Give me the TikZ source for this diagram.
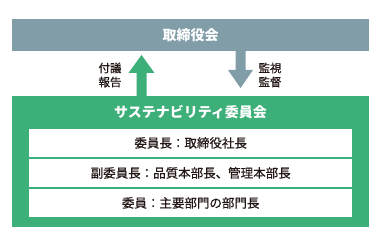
\documentclass[tikz,border=0pt]{standalone}
\usepackage{fontspec}
\setmainfont{Noto Sans CJK JP}
\newfontfamily\medfont{Noto Sans CJK JP}[FakeBold=0.6]
\definecolor{boardgray}{HTML}{819DA8}
\definecolor{comgreen}{HTML}{3DAF78}
\definecolor{txtdark}{HTML}{231815}
\tikzset{
  bandbox/.style={minimum width=357pt, inner sep=0pt, anchor=north west},
  rowbox/.style={fill=white, minimum width=323pt, minimum height=27.5pt, inner sep=0pt, anchor=north west, font=\medfont\fontsize{12.5}{14}\selectfont, text=txtdark},
  sidelabel/.style={font=\medfont\fontsize{11.5}{14}\selectfont, align=center, text=txtdark, inner sep=0pt}
}
\begin{document}
\begin{tikzpicture}[x=1pt,y=-1pt]
\useasboundingbox (0,0) rectangle (392,237);
\fill[white] (0,0) rectangle (392,237);
% board
\node[bandbox, fill=boardgray, minimum height=32pt, text=white, font=\fontsize{14}{16}\selectfont\bfseries] (board) at (12,19) {取締役会};
% committee
\node[bandbox, fill=comgreen, minimum height=131pt] (com) at (12,96) {};
\node[text=white, font=\fontsize{14}{16}\selectfont\bfseries, inner sep=0pt] (comtitle) at (190.5,112.5) {サステナビリティ委員会};
\node[rowbox] (r1) at (29,129) {委員長：取締役社長};
\node[rowbox] (r2) at (29,159) {副委員長：品質本部長、管理本部長};
\node[rowbox] (r3) at (29,189) {委員：主要部門の部門長};
% arrows
\fill[comgreen] (136.5,96) -- (136.5,73) -- (128.5,73) -- (141.5,55) -- (154.5,73) -- (146.5,73) -- (146.5,96) -- cycle;
\fill[boardgray] (235.5,51) -- (235.5,70) -- (228,70) -- (240.5,88) -- (253,70) -- (245.5,70) -- (245.5,51) -- cycle;
\node[sidelabel] (lab1) at (110,75) {付議\\報告};
\node[sidelabel] (lab2) at (270,75) {監視\\監督};
\end{tikzpicture}
\end{document}
